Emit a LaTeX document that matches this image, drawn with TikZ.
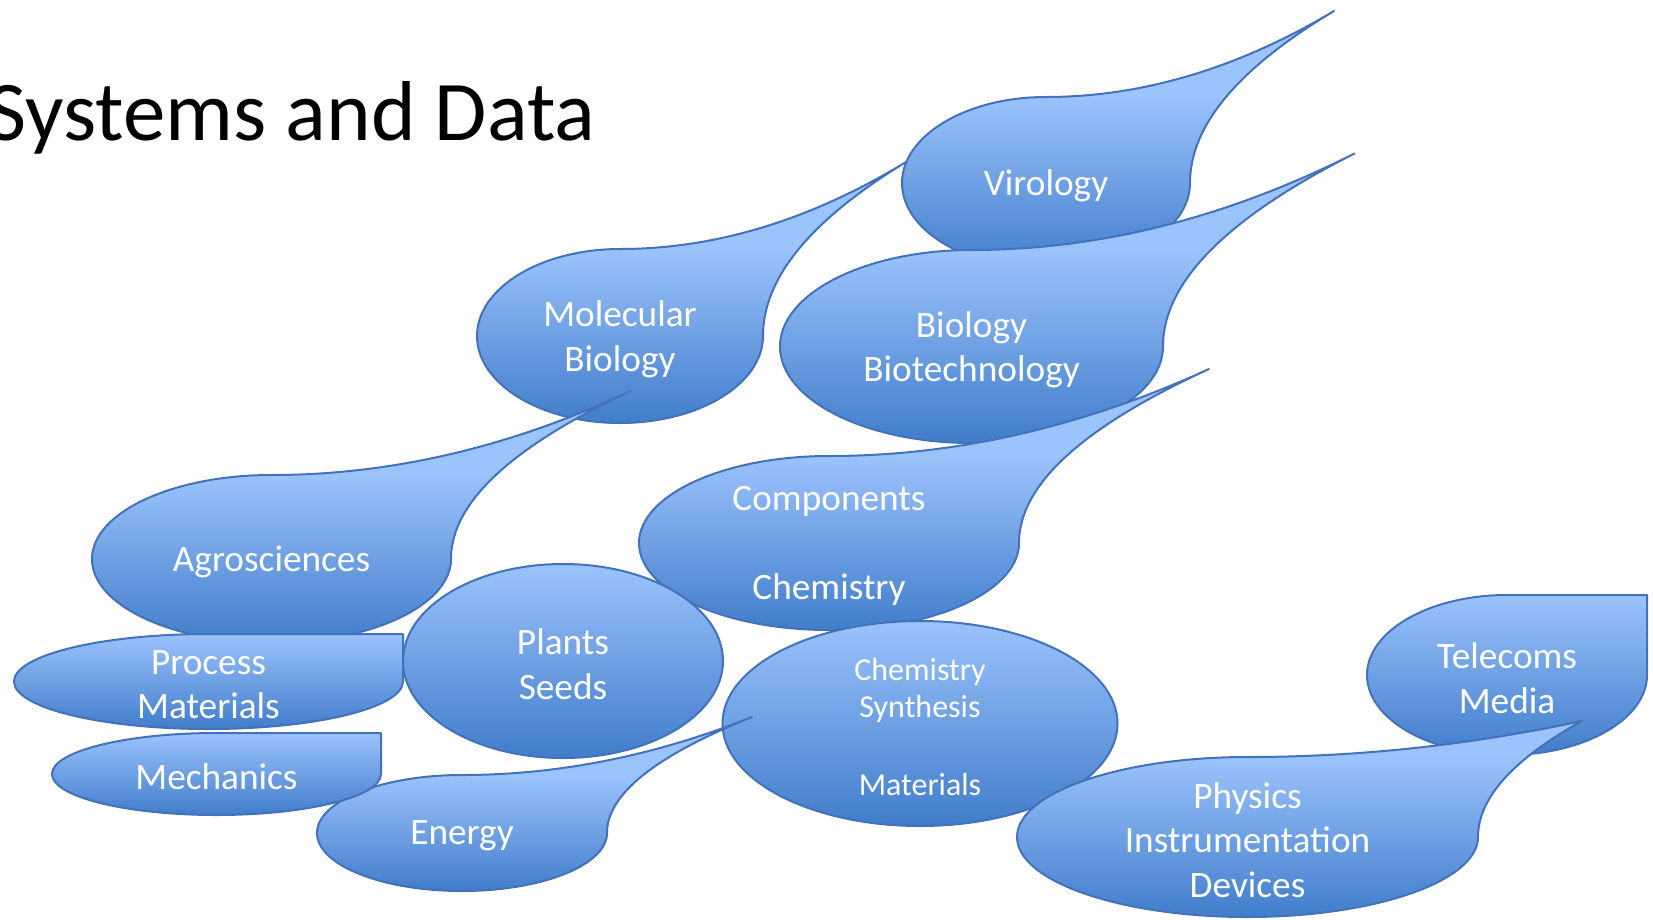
\documentclass[tikz,border=0pt]{standalone}
\usepackage{fontspec}
\setmainfont{Carlito}
\definecolor{droptop}{RGB}{155,195,252}
\definecolor{dropbot}{RGB}{65,125,203}
\definecolor{dropline}{RGB}{68,114,186}
\tikzset{
	teardrop/.style={draw=dropline, line width=2pt, line join=round},
	droptext/.style={text=white, align=center, inner sep=0pt, yshift=-3pt, font=\fontsize{37.3}{44.5}\selectfont},
	smalltext/.style={font=\fontsize{32}{37}\selectfont},
}
% teardrop: name, cx, cy, rx, ry, tip factor, text
% (gradient runs over the oval only, the tip above it stays light)
\newcommand{\tdrop}[7]{%
	\pgfmathsetmacro\tstop{25+100/(#6+1)}%
	\edef\tmp{\noexpand\pgfdeclareverticalshading{sh#1}{100bp}{color(0bp)=(dropbot); color(25bp)=(dropbot); color(\tstop bp)=(droptop); color(100bp)=(droptop)}}\tmp
	\draw[teardrop, shade, shading=sh#1]
	(#2,{#3-#5}) .. controls ({#2+#6*#4/3},{#3-#5}) and ({#2+2*#6*#4/3},{#3-(#6+2)*#5/3}) .. ({#2+#6*#4},{#3-#6*#5})
	.. controls ({#2+(#6+2)*#4/3},{#3-2*#6*#5/3}) and ({#2+#4},{#3-#6*#5/3}) .. ({#2+#4},#3)
	.. controls ({#2+#4},{#3+0.5523*#5}) and ({#2+0.5523*#4},{#3+#5}) .. (#2,{#3+#5})
	.. controls ({#2-0.5523*#4},{#3+#5}) and ({#2-#4},{#3+0.5523*#5}) .. ({#2-#4},#3)
	.. controls ({#2-#4},{#3-0.5523*#5}) and ({#2-0.5523*#4},{#3-#5}) .. cycle;
	\node[droptext] (#1) at (#2,#3) {#7};
}
% plain oval: [node options] name, cx, cy, rx, ry, text
\newcommand{\tblob}[7][]{%
	\draw[teardrop, top color=droptop, bottom color=dropbot] (#3,#4) ellipse [x radius=#5, y radius=#6];
	\node[droptext,#1] (#2) at (#3,#4) {#7};
}
\begin{document}
\begin{tikzpicture}[x=1pt, y=-1pt]
	\useasboundingbox (0,0) rectangle (1653,919);
	
	\node[anchor=base east, font=\fontsize{85}{100}\selectfont] (title) at (599,140) {Systems and Data};
	
	% back to front
	\tdrop{molbio}{620}{336}{143}{87}{2}{Molecular\\Biology}
	\tdrop{viro}{1046}{183}{144}{86}{2}{Virology}
	\tdrop{biotech}{971.5}{346.5}{191.5}{96.5}{2}{Biology\\Biotechnology}
	\tdrop{agro}{271.5}{559}{179.5}{84}{2}{Agrosciences}
	\tdrop{comp}{829}{543}{190}{87}{2}{Components\\[44.5pt]Chemistry}
	\tdrop{process}{208.5}{681.5}{194.5}{47.5}{1}{Process\\Materials}
	\tblob[smalltext]{synth}{920}{723.5}{197.5}{102.5}{Chemistry\\Synthesis\\[41pt]Materials}
	\tdrop{energy}{462}{833}{145}{58}{2}{Energy}
	\tdrop{mech}{216.5}{774}{164.5}{41}{1}{Mechanics}
	\tblob{plants}{563}{661}{160}{97}{Plants\\Seeds}
	\tdrop{telecom}{1507}{675}{140}{80}{1}{Telecoms\\Media}
	\tdrop{physics}{1247.5}{837}{230.5}{80}{1.45}{Physics\\Instrumentation\\Devices}
\end{tikzpicture}
\end{document}
